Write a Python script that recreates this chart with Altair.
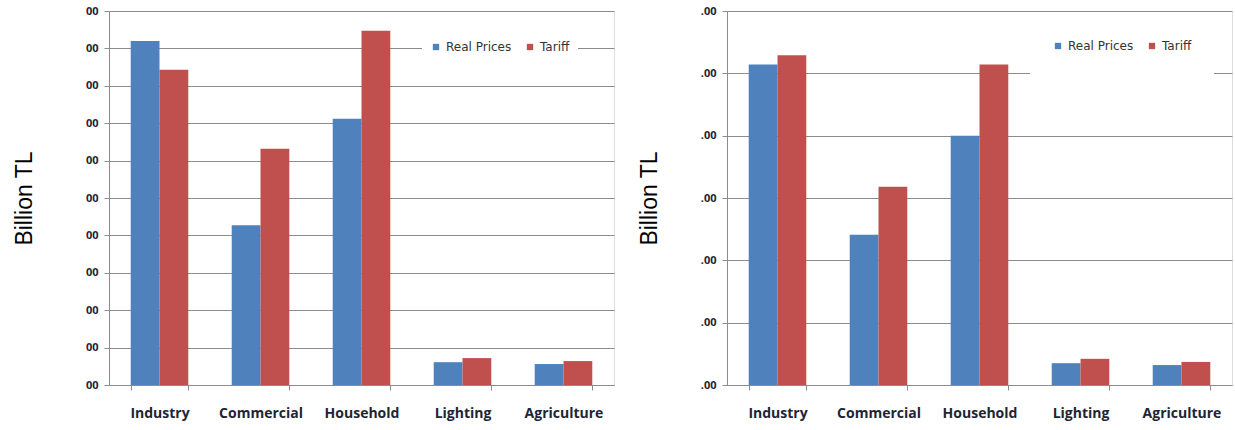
import altair as alt
import pandas as pd

categories = ["Industry", "Commercial", "Household", "Lighting", "Agriculture"]
series = ["Real Prices", "Tariff"]

left_real = [9.2, 4.27, 7.12, 0.61, 0.56]
left_tariff = [8.43, 6.32, 9.47, 0.72, 0.64]
right_real = [5.14, 2.41, 4.0, 0.35, 0.32]
right_tariff = [5.29, 3.18, 5.14, 0.42, 0.37]

left_ticks = list(range(0, 11))
right_ticks = list(range(0, 7))
left_tick_label = "00"
right_tick_label = ".00"

colors = ["#4F81BD", "#C0504D"]


def make_df(real, tariff):
    rows = []
    for c, r, t in zip(categories, real, tariff):
        rows.append({"category": c, "series": series[0], "value": r})
        rows.append({"category": c, "series": series[1], "value": t})
    return pd.DataFrame(rows)


def panel(df, ticks, tick_label, title_pad, legend_pad, legend_x, legend_y):
    return alt.Chart(df).mark_bar().encode(
        x=alt.X("category:N", sort=categories,
                scale=alt.Scale(paddingInner=0.43, paddingOuter=0.215),
                axis=alt.Axis(title=None, labelAngle=0, tickBand="extent",
                              labelPadding=16, tickSize=5, grid=False,
                              labelFont="Open Sans", labelFontWeight="bold",
                              labelFontSize=14, labelColor="#1e2535",
                              domainColor="#8c8c8c", tickColor="#8c8c8c")),
        xOffset=alt.XOffset("series:N", sort=series,
                            scale=alt.Scale(paddingInner=0, paddingOuter=0)),
        y=alt.Y("value:Q",
                scale=alt.Scale(domain=[ticks[0], ticks[-1]], nice=False),
                axis=alt.Axis(title="Billion TL", values=ticks,
                              labelExpr="'%s'" % tick_label,
                              titleFont="Liberation Sans", titleFontSize=23,
                              titleFontWeight="normal", titleColor="#000",
                              titlePadding=title_pad,
                              labelFont="Open Sans", labelFontWeight="bold",
                              labelFontSize=11, labelColor="#1e2535",
                              labelPadding=6, tickSize=5,
                              grid=True, gridColor="#8c8c8c", gridOpacity=1,
                              domainColor="#8c8c8c", tickColor="#8c8c8c")),
        color=alt.Color("series:N", sort=series,
                        scale=alt.Scale(domain=series, range=colors),
                        legend=alt.Legend(title=None, orient="none",
                                          direction="horizontal",
                                          legendX=legend_x, legendY=legend_y,
                                          fillColor="white",
                                          padding=legend_pad,
                                          symbolType="square", symbolSize=40,
                                          labelFont="DejaVu Sans", labelFontSize=12,
                                          labelColor="#333",
                                          columnPadding=12)),
    ).properties(width=505, height=374)


left = panel(make_df(left_real, left_tariff), left_ticks, left_tick_label, 49, 8, 313, 22)
right = panel(make_df(right_real, right_tariff), right_ticks, right_tick_label, 39, 22, 303, 7)

chart = alt.hconcat(left, right, spacing=22).resolve_scale(
    color="independent", y="independent"
).properties(padding={"left": 12, "top": 4, "right": 0, "bottom": 0}).configure_view(
    stroke=None
).configure(background="white")

chart.save("out.html", embed_options={"renderer": "svg", "actions": False})
